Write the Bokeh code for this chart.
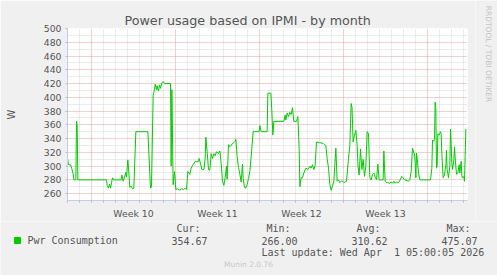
import math
from bokeh.plotting import figure
from bokeh.models import Range1d, FixedTicker, ColumnDataSource
from bokeh.layouts import column, row
from bokeh.core.properties import value
from bokeh.embed import file_html
from bokeh.resources import INLINE

# ---- data (hours since start of the month window, watts) ----
hours = [0, 2, 6, 8.7, 11.3, 12.7, 16.7, 18, 19.3, 20.7, 78, 79.3, 82, 84, 86, 90, 92.7, 107.3,
         108.7, 111.3, 114, 116.7, 118, 120.7, 122, 124.7, 127.3, 130, 132.7, 136.7, 160.7, 166,
         168, 171.3, 174, 175.3, 178, 179.3, 182, 184, 186, 188.7, 191.3, 194, 206, 207.3, 208.7,
         211.3, 214, 216.7, 220, 224, 228, 232, 236, 238, 240.7, 244.7, 247.3, 251.3, 255.3,
         260.7, 263.3, 266, 268.7, 272.7, 275.3, 276.7, 279.3, 282, 284.7, 287.3, 290, 292.7,
         295.3, 298, 302, 304.7, 307.3, 310, 312.7, 315.3, 318, 319.3, 322, 324.7, 327.3, 330,
         332.7, 335.3, 336.7, 339.3, 342, 344.7, 347.3, 350, 351.3, 354, 356.7, 359.3, 362,
         364.7, 368.7, 371.3, 383.3, 384.7, 387.3, 399.3, 400.7, 406.7, 408.7, 410.7, 412.7,
         432.7, 435.3, 436.7, 439.3, 442, 444.7, 447.3, 450, 452.7, 458, 460.7, 463.3, 464.7,
         467.3, 470, 472.7, 476.7, 480.7, 484.7, 487.3, 490, 492.7, 495.3, 498, 504.7, 511.3,
         514, 516.7, 519.3, 522, 524.7, 527.3, 530, 532.7, 536.7, 539.3, 542, 544.7, 548.7,
         552.7, 558, 562, 564.7, 567.3, 569, 571.3, 574, 576.7, 579.3, 581, 583.3, 586, 588.7,
         591.3, 594, 596.7, 599.3, 602, 603.3, 604.7, 607.3, 610, 612.7, 615.3, 618, 620.7,
         623.3, 631.3, 632.7, 635.3, 638, 640.7, 644.7, 647.3, 650, 652.7, 655.3, 658, 660.7,
         663.3, 668.7, 671.3, 674, 679.3, 682, 684.7, 687.3, 690, 692.7, 694, 695.3, 696.7, 698,
         699.3, 702, 704.7, 726, 728.7, 730, 732.7, 734, 735.3, 736.7, 738, 739.3, 740.7, 743.3,
         746, 747.3, 748.7, 751.3, 754, 756.7, 758, 759.3, 762, 764.7, 766, 768.7, 770, 772.7,
         774, 775.3, 778, 780.7, 783.3, 784.7, 787.3, 788.7, 790, 792.7, 794, 795.3, 796.7]
watts = [311, 302, 302, 296, 289, 280, 280, 365, 360, 280, 280, 272, 268, 274, 268, 283, 280, 280,
         287, 278, 284, 291, 284, 309, 297, 269, 271, 267, 268, 350, 350, 268,
         270, 403, 411, 419, 411, 417, 409, 418, 413, 421, 423, 420, 420, 300, 411,
         273, 292, 266, 267, 265, 267, 266, 268, 266, 292, 288, 297, 302, 307,
         306, 311, 304, 295, 295, 311, 342, 321, 295, 294, 318, 311, 318,
         315, 321, 318, 322, 304, 278, 272, 283, 300, 281, 331, 328, 330, 333,
         334, 336, 339, 314, 298, 288, 277, 303, 282, 269, 268, 273, 282,
         292, 326, 350, 350, 359, 350, 350, 406, 406, 380, 345, 365,
         365, 374, 367, 377, 372, 378, 375, 385, 365, 365, 372, 326, 270,
         283, 283, 290, 297, 295, 300, 297, 302, 295, 301, 335, 334, 333,
         331, 330, 311, 297, 273, 265, 271, 278, 326, 278, 280, 276, 279,
         276, 278, 311, 330, 391, 385, 335, 345, 352, 330, 300, 287, 325, 295,
         310, 285, 300, 350, 347, 316, 283, 280, 288, 290, 284, 280, 303,
         280, 280, 322, 278, 276, 276, 275, 277, 275, 278, 275, 277, 276,
         277, 285, 283, 280, 279, 278, 280, 292, 326, 319, 318, 305, 283, 319,
         312, 290, 280, 280, 297, 338, 336, 340, 393, 383, 297, 300, 347, 345,
         350, 347, 318, 283, 287, 302, 323, 295, 283, 300, 354, 305, 295, 309,
         328, 312, 288, 290, 302, 290, 307, 286, 283, 285, 278, 314, 354]

y_ticks = [260, 280, 300, 320, 340, 360, 380, 400, 420, 440, 460, 480, 500]
y_minor = [250, 270, 290, 310, 330, 350, 370, 390, 410, 430, 450, 470, 490]
week_labels = ["Week 10", "Week 11", "Week 12", "Week 13"]
week_centers = [132, 300, 468, 636]
week_bounds = [48, 216, 384, 552, 720]
day_lines = [h for h in range(0, 801, 24) if h not in week_bounds]

title_text = "Power usage based on IPMI - by month"
y_unit = "W"
side_text = "RRDTOOL / TOBI OETIKER"
series_name = "Pwr Consumption"
stat_names = ["Cur:", "Min:", "Avg:", "Max:"]
stat_values = ["354.67", "266.00", "310.62", "475.07"]
last_update = "Last update: Wed Apr\u00a0 1 05:00:05 2026"
footer = "Munin 2.0.76"

W, H = 497, 275
H1 = 221           # height of the chart part
W1 = 475           # width of the chart figure (a thin strip to its right holds the side text)
FL, FB = 67, 203   # frame left / frame bottom in canvas pixels
BG = "#f0f0f0"
TXT = "#555555"
AXIS = "#c8c8f4"
MONO = "DejaVu Sans Mono"

p = figure(width=W1, height=H1, output_backend="svg", toolbar_location=None,
           x_range=Range1d(0, 800), y_range=Range1d(250, 500),
           min_border_left=FL, min_border_right=W1 - 467, min_border_top=28,
           min_border_bottom=H1 - FB)
p.frame_align = False
p.background_fill_color = "white"
p.border_fill_color = BG
p.outline_line_color = None

# title
p.title.text = title_text
p.title.align = "left"
p.title.offset = 124 - FL
p.title.standoff = 2
p.title.text_font = "DejaVu Sans"
p.title.text_font_style = "normal"
p.title.text_font_size = "12.7px"
p.title.text_color = TXT

# grids
p.xgrid.ticker = FixedTicker(ticks=week_bounds, minor_ticks=day_lines)
p.xgrid.grid_line_color = "#e3a0a0"
p.xgrid.grid_line_dash = "1 1"
p.xgrid.minor_grid_line_color = "#d6d6d6"
p.xgrid.minor_grid_line_dash = "1 1"
p.ygrid.ticker = FixedTicker(ticks=y_ticks, minor_ticks=y_minor)
p.ygrid.grid_line_color = "#e3a0a0"
p.ygrid.grid_line_dash = "1 1"
p.ygrid.minor_grid_line_color = "#d6d6d6"
p.ygrid.minor_grid_line_dash = "1 1"

# y axis
p.yaxis.ticker = FixedTicker(ticks=y_ticks)
p.yaxis.axis_line_color = AXIS
p.yaxis.major_tick_line_color = "#bbbbbb"
p.yaxis.major_tick_out = 2
p.yaxis.major_tick_in = 0
p.yaxis.minor_tick_line_color = None
p.yaxis.major_label_standoff = 4
p.yaxis.major_label_text_font = "DejaVu Sans"
p.yaxis.major_label_text_font_size = "9.3px"
p.yaxis.major_label_text_color = TXT
p.yaxis.axis_label = y_unit
p.yaxis.axis_label_standoff = 24
p.yaxis.axis_label_text_font = "DejaVu Sans"
p.yaxis.axis_label_text_font_style = "normal"
p.yaxis.axis_label_text_font_size = "10px"
p.yaxis.axis_label_text_color = TXT

# x axis
p.xaxis.ticker = FixedTicker(ticks=week_centers, minor_ticks=list(range(0, 801, 24)))
p.xaxis.major_label_overrides = {c: l for c, l in zip(week_centers, week_labels)}
p.xaxis.axis_line_color = AXIS
p.xaxis.major_tick_line_color = None
p.xaxis.major_tick_out = 0
p.xaxis.major_tick_in = 0
p.xaxis.minor_tick_line_color = "#bbbbbb"
p.xaxis.minor_tick_out = 2
p.xaxis.minor_tick_in = 0
p.xaxis.major_label_standoff = 5
p.xaxis.major_label_text_font = "DejaVu Sans"
p.xaxis.major_label_text_font_size = "9.3px"
p.xaxis.major_label_text_color = TXT

src = ColumnDataSource(data=dict(hours=hours, watts=watts))
p.line(x="hours", y="watts", source=src, line_color="#00cc00", line_width=1)

# ---- thin strip on the right with the vertical credit text (pixel coords, y up) ----
W3 = W - W1
r = figure(width=W3, height=H1, output_backend="svg", toolbar_location=None,
           x_range=Range1d(0, W3), y_range=Range1d(0, H1),
           x_axis_type=None, y_axis_type=None, min_border=0,
           min_border_left=0, min_border_right=0, min_border_top=0, min_border_bottom=0)
r.frame_align = False
r.background_fill_color = BG
r.border_fill_color = BG
r.outline_line_color = None
r.grid.visible = False
r.text(x=[488 - W1], y=[H1 - 53.5], text=[side_text], angle=-math.pi / 2,
       text_font=value("DejaVu Sans"), text_font_size="7.5px", text_color="#c4c4c4",
       text_align="center", text_baseline="middle")

# ---- legend block (second row, pixel coordinates measured from its top) ----
H2 = H - H1
q = figure(width=W, height=H2, output_backend="svg", toolbar_location=None,
           x_range=Range1d(0, W), y_range=Range1d(H2, 0),
           x_axis_type=None, y_axis_type=None, min_border=0,
           min_border_left=0, min_border_right=0, min_border_top=0, min_border_bottom=0)
q.frame_align = False
q.background_fill_color = BG
q.border_fill_color = BG
q.outline_line_color = None
q.grid.visible = False

header_right = [200, 290, 380, 470]
value_right = [207, 297, 387, 477]
q.text(x=header_right, y=[227.5 - H1] * 4, text=stat_names, text_font=value(MONO),
       text_font_size="10px", text_color=TXT, text_align="right", text_baseline="middle")
q.text(x=value_right, y=[240 - H1] * 4, text=stat_values, text_font=value(MONO),
       text_font_size="10px", text_color=TXT, text_align="right", text_baseline="middle")
q.text(x=[27], y=[240 - H1], text=[series_name], text_font=value(MONO),
       text_font_size="10px", text_color=TXT, text_align="left", text_baseline="middle")
q.scatter(x=[17], y=[240 - H1], marker="square", size=6, fill_color="#00cc00",
          line_color="#00cc00")
q.text(x=[261], y=[252 - H1], text=[last_update], text_font=value(MONO),
       text_font_size="10px", text_color=TXT, text_align="left", text_baseline="middle")
q.text(x=[248], y=[264 - H1], text=[footer], text_font=value("DejaVu Sans"),
       text_font_size="7.5px", text_color="#c8c8c8", text_align="center",
       text_baseline="middle")

layout = column(row(p, r, spacing=0), q, spacing=0)
open("out.html", "w").write(file_html(layout, INLINE))
